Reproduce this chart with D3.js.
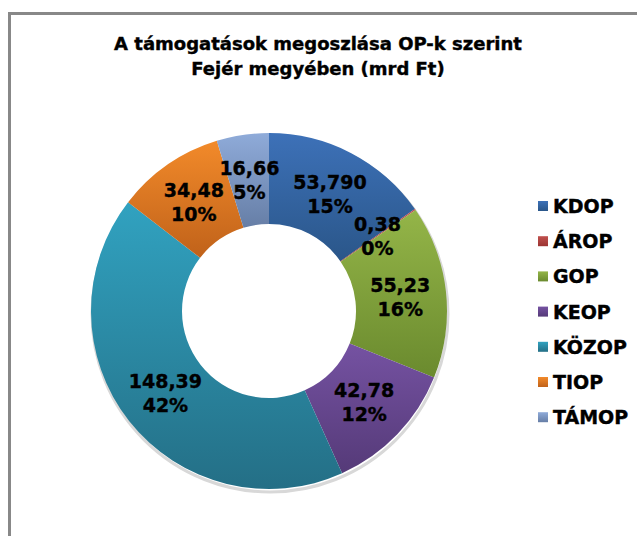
<!DOCTYPE html>
<html>
<head>
<meta charset="utf-8">
<script src="https://cdn.jsdelivr.net/npm/d3@7"></script>
<style>
    body { margin: 0; background: #fff; }
    svg { display: block; }
    text { font-family: Verdana, "DejaVu Sans", sans-serif; font-weight: bold; }
</style>
</head>
<body>
<svg id="chart" width="637" height="536"></svg>
<script>
// adatok
const categories = ['KDOP', 'ÁROP', 'GOP', 'KEOP', 'KÖZOP', 'TIOP', 'TÁMOP'];
const values = [53.79, 0.38, 55.23, 42.78, 148.39, 34.48, 16.66];
const valueLabels = ['53,790', '0,38', '55,23', '42,78', '148,39', '34,48', '16,66'];
const colorsTop = ['#3d71b8', '#c0504d', '#94b548', '#7552a2', '#31a2c0', '#f28a2a', '#8fabd9'];
const colorsBottom = ['#2a5689', '#9b3432', '#6a8a2e', '#553a78', '#246f86', '#c0621a', '#667ea6'];
const titleLines = ['A támogatások megoszlása OP-k szerint', 'Fejér megyében (mrd Ft)'];

const svg = d3.select('#chart');
const cx = 269, cy = 311;
const outerR = 178, innerR = 87, labelR = 132;

// keret
svg.append('rect')
    .attr('x', 9.5).attr('y', 13.5)
    .attr('width', 700).attr('height', 600)
    .attr('fill', 'none')
    .attr('stroke', '#888')
    .attr('stroke-width', 3);

// cím
svg.append('text')
    .attr('x', 318).attr('y', 50)
    .attr('text-anchor', 'middle')
    .style('font-size', '18px')
    .style('stroke', '#000').style('stroke-width', 0.4)
    .selectAll('tspan')
    .data(titleLines)
    .enter()
    .append('tspan')
    .attr('x', 318)
    .attr('dy', (d, i) => i === 0 ? 0 : 25)
    .text(d => d);

// színátmenetek
const defs = svg.append('defs');
categories.forEach((c, i) => {
    let g = defs.append('linearGradient')
        .attr('id', 'grad' + i)
        .attr('x1', 0).attr('y1', 0)
        .attr('x2', 0).attr('y2', 1);
    g.append('stop').attr('offset', '0%').attr('stop-color', colorsTop[i]);
    g.append('stop').attr('offset', '100%').attr('stop-color', colorsBottom[i]);
});

const pie = d3.pie().sort(null).value(d => d);
const arcs = pie(values);
const total = d3.sum(values);
const arc = d3.arc().innerRadius(innerR).outerRadius(outerR);
const labelArc = d3.arc().innerRadius(labelR).outerRadius(labelR);

const g = svg.append('g').attr('transform', `translate(${cx},${cy})`);

// árnyék
g.append('circle')
    .attr('cx', 1).attr('cy', 3)
    .attr('r', outerR)
    .attr('fill', 'none')
    .attr('stroke', '#d8d8d8')
    .attr('stroke-width', 3);

g.selectAll('path.slice')
    .data(arcs)
    .enter()
    .append('path')
    .attr('class', 'slice')
    .attr('d', arc)
    .attr('fill', (d, i) => `url(#grad${i})`);

// címkék
const lbl = g.selectAll('text.lbl')
    .data(arcs)
    .enter()
    .append('text')
    .attr('class', 'lbl')
    .attr('text-anchor', 'middle')
    .style('font-size', '19px')
    .style('stroke', '#000').style('stroke-width', 0.4)
    .attr('fill', '#000')
    .attr('transform', d => {
        let [x, y] = labelArc.centroid(d);
        return `translate(${x},${y})`;
    });
lbl.append('tspan')
    .attr('x', 0).attr('dy', -5)
    .text((d, i) => valueLabels[i]);
lbl.append('tspan')
    .attr('x', 0).attr('dy', 24)
    .text(d => Math.round(d.value / total * 100) + '%');

// jelmagyarázat
const legend = svg.append('g').attr('transform', 'translate(538,206)');
const item = legend.selectAll('g')
    .data(categories)
    .enter()
    .append('g')
    .attr('transform', (d, i) => `translate(0,${i * 35.2})`);
item.append('rect')
    .attr('x', 0).attr('y', -5)
    .attr('width', 10).attr('height', 10)
    .attr('fill', (d, i) => `url(#grad${i})`);
item.append('text')
    .attr('x', 15).attr('y', 7)
    .style('font-size', '19px')
    .style('stroke', '#000').style('stroke-width', 0.4)
    .text(d => d);
</script>
</body>
</html>
